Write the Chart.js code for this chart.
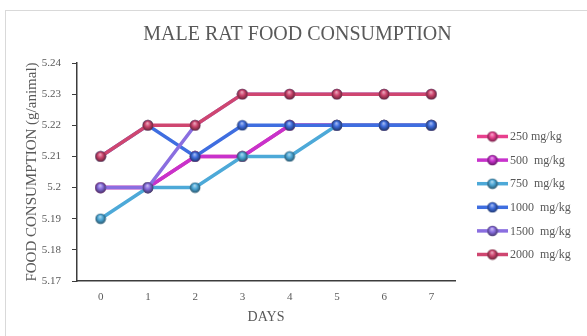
<!DOCTYPE html>
<html>
<head>
<meta charset="utf-8">
<title>Male Rat Food Consumption</title>
<script src="https://cdn.jsdelivr.net/npm/chart.js@4/dist/chart.umd.min.js"></script>
<style>
  html, body { margin: 0; padding: 0; background: #ffffff; }
  #wrap { position: relative; width: 587px; height: 336px; }
</style>
</head>
<body>
<div id="wrap"><canvas id="chart" width="587" height="336"></canvas></div>
<script>
// Days of the study
const days = ['0', '1', '2', '3', '4', '5', '6', '7'];

// Food consumption (g/animal) per dose group
const dose250  = [5.20, 5.20, 5.21, 5.21, 5.22, 5.22, 5.22, 5.22];
const dose500  = [5.20, 5.20, 5.21, 5.21, 5.22, 5.22, 5.22, 5.22];
const dose750  = [5.19, 5.20, 5.20, 5.21, 5.21, 5.22, 5.22, 5.22];
const dose1000 = [5.21, 5.22, 5.21, 5.22, 5.22, 5.22, 5.22, 5.22];
const dose1500 = [5.20, 5.20, 5.22, 5.23, 5.23, 5.23, 5.23, 5.23];
const dose2000 = [5.21, 5.22, 5.22, 5.23, 5.23, 5.23, 5.23, 5.23];

const seriesLabels = ['250 mg/kg', '500  mg/kg', '750  mg/kg', '1000  mg/kg', '1500  mg/kg', '2000  mg/kg'];
const seriesValues = [dose250, dose500, dose750, dose1000, dose1500, dose2000];
const seriesColors = ['#E8408E', '#C832CC', '#4DA9D8', '#3F6EE0', '#8A6EE0', '#CF4670'];

const chartTitle = 'MALE RAT FOOD CONSUMPTION';

const SERIF = "'Liberation Serif', 'Times New Roman', serif";
const TEXT_GREY = '#595959';
const AXIS_COLOR = '#3c3c3c';

function shade(hex, amt) {
  const n = parseInt(hex.slice(1), 16);
  let r = (n >> 16) & 255, g = (n >> 8) & 255, b = n & 255;
  if (amt >= 0) {
    r = r + (255 - r) * amt; g = g + (255 - g) * amt; b = b + (255 - b) * amt;
  } else {
    r = r * (1 + amt); g = g * (1 + amt); b = b * (1 + amt);
  }
  return 'rgb(' + Math.round(r) + ',' + Math.round(g) + ',' + Math.round(b) + ')';
}

// Glossy ball marker
function sphere(color) {
  const size = 12, c = document.createElement('canvas');
  c.width = size; c.height = size;
  const g = c.getContext('2d');
  const r = 5.3, cx = size / 2, cy = size / 2;
  const grad = g.createRadialGradient(cx - 0.5, cy - 2.2, 0.3, cx, cy, r);
  grad.addColorStop(0, shade(color, 0.55));
  grad.addColorStop(0.45, color);
  grad.addColorStop(1, shade(color, -0.5));
  g.fillStyle = grad;
  g.beginPath(); g.arc(cx, cy, r, 0, Math.PI * 2); g.fill();
  return c;
}

const markers = seriesColors.map(sphere);

const datasets = seriesLabels.map((label, i) => ({
  label: label,
  data: seriesValues[i],
  borderColor: seriesColors[i],
  backgroundColor: seriesColors[i],
  borderWidth: 3.5,
  pointStyle: markers[i],
  pointRadius: 5,
  tension: 0,
  order: seriesLabels.length - 1 - i
}));

// Light frame around the chart, and the title centred across the whole frame
const framePlugin = {
  id: 'frame',
  beforeDraw(chart) {
    const ctx = chart.ctx;
    ctx.save();
    ctx.fillStyle = '#ffffff';
    ctx.fillRect(0, 0, chart.width, chart.height);
    ctx.strokeStyle = '#d9d9d9';
    ctx.lineWidth = 1;
    ctx.strokeRect(5.5, 10.5, chart.width + 20, chart.height + 20);
    ctx.fillStyle = TEXT_GREY;
    ctx.font = '20px ' + SERIF;
    ctx.textAlign = 'center';
    ctx.textBaseline = 'middle';
    ctx.fillText(chartTitle, 297.5, 35);
    ctx.restore();
  }
};

// Legend on the right: line sample with marker, then the label
const sideLegend = {
  id: 'sideLegend',
  afterDraw(chart) {
    const ctx = chart.ctx;
    const x0 = chart.chartArea.right + 22, len = 31, y0 = 136.5, step = 23.6;
    ctx.save();
    chart.data.datasets.forEach((ds, i) => {
      const y = y0 + i * step;
      ctx.strokeStyle = ds.borderColor;
      ctx.lineWidth = 3.5;
      ctx.beginPath(); ctx.moveTo(x0, y); ctx.lineTo(x0 + len, y); ctx.stroke();
      const img = ds.pointStyle;
      ctx.drawImage(img, x0 + len / 2 - img.width / 2, y - img.height / 2);
      ctx.fillStyle = TEXT_GREY;
      ctx.font = '12px ' + SERIF;
      ctx.textAlign = 'left';
      ctx.textBaseline = 'middle';
      ctx.fillText(ds.label, x0 + len + 2, y + 0.5);
    });
    ctx.restore();
  }
};

new Chart(document.getElementById('chart'), {
  type: 'line',
  data: { labels: days, datasets: datasets },
  plugins: [framePlugin, sideLegend],
  options: {
    responsive: false,
    animation: false,
    events: [],
    layout: { padding: { left: 0, right: 132, top: 63, bottom: 0 } },
    plugins: {
      legend: { display: false },
      tooltip: { enabled: false },
      title: { display: false }
    },
    scales: {
      x: {
        type: 'category',
        offset: true,
        afterFit(s) { s.height = 55; },
        grid: { display: false, drawTicks: false },
        border: { display: true, color: AXIS_COLOR, width: 1.5 },
        ticks: { color: TEXT_GREY, font: { family: SERIF, size: 11 }, padding: 10 },
        title: {
          display: true, text: 'DAYS', color: TEXT_GREY,
          font: { family: SERIF, size: 14, lineHeight: 1.2 },
          padding: { top: 4, bottom: 10.5 }
        }
      },
      y: {
        min: 5.17,
        max: 5.24,
        afterFit(s) { s.width = 77; },
        grid: { display: true, drawOnChartArea: false, drawTicks: true, tickLength: 5, color: AXIS_COLOR, lineWidth: 1 },
        border: { display: true, color: AXIS_COLOR, width: 1.5 },
        ticks: {
          stepSize: 0.01,
          color: TEXT_GREY,
          font: { family: SERIF, size: 11 },
          padding: 11,
          callback: v => String(parseFloat(Number(v).toFixed(2)))
        },
        title: {
          display: true, text: 'FOOD CONSUMPTION (g/animal)', color: TEXT_GREY,
          font: { family: SERIF, size: 15, lineHeight: 1.2 },
          padding: { top: 23, bottom: 4 }
        }
      }
    }
  }
});
</script>
</body>
</html>
